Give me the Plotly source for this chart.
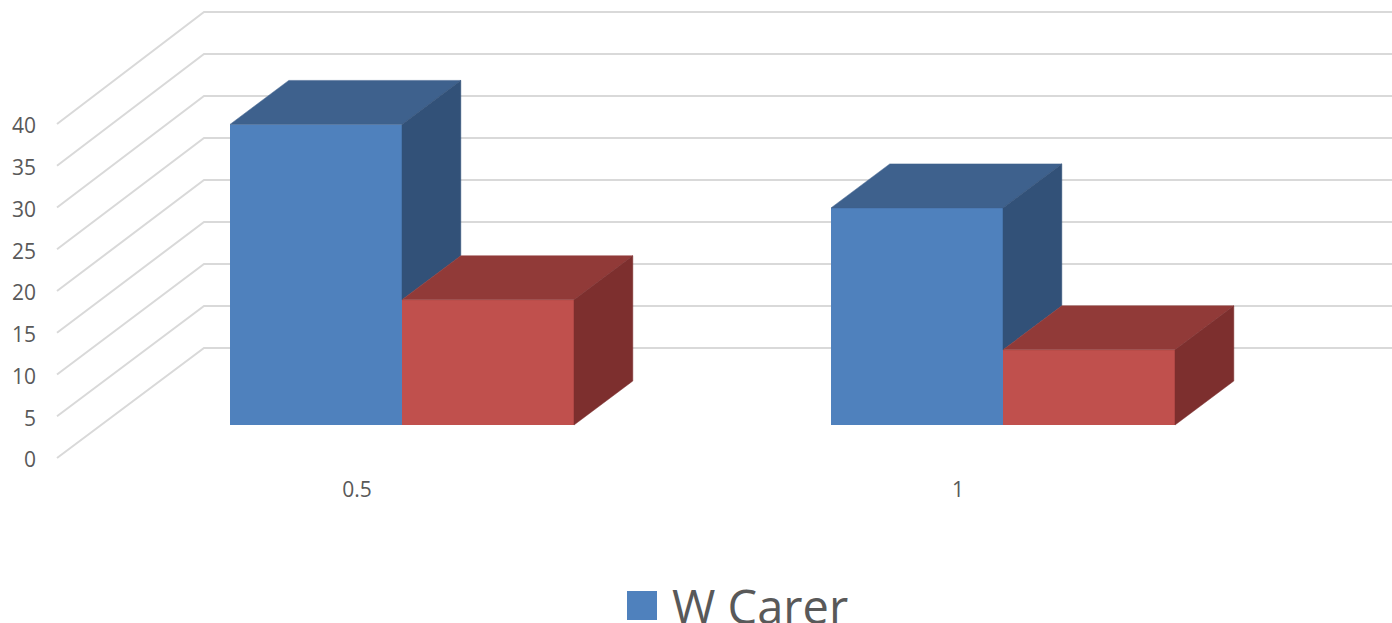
import plotly.graph_objects as go

# ---- data ----
categories = ["0.5", "1"]
w_carer = [36, 26]
second_series = [15, 9]
value_ticks = [0, 5, 10, 15, 20, 25, 30, 35, 40]
legend_label = "W Carer"

# ---- styles / layout constants ----
W, H = 1392, 623
ML, MB = 37, 148
PX_PER_CAT = 601.0
PX_PER_VAL = 8.35
ZERO_PY = 458.0
CAT0_PX = 402.0
BAR_W = 172.0 / PX_PER_CAT
WALL_LEFT_PX = 57.0
WALL_DX = 147.0 / PX_PER_CAT
WALL_DY = 110.0 / PX_PER_VAL
WALL_BACK_SCALE = 1.006
BAR_T0, BAR_T1 = 0.30, 0.70
GRID = "#d9d9d9"
TXT = "#595959"
FONT = "Open Sans"
BLUE = ("#4f81bd", "#3e618d", "#325178")
RED = ("#c0504d", "#913a38", "#7d2f2e")

x_min = (ML - CAT0_PX) / PX_PER_CAT
x_max = (W - CAT0_PX) / PX_PER_CAT
y_max = ZERO_PY / PX_PER_VAL
y_min = (ZERO_PY - (H - MB)) / PX_PER_VAL
wall_x0 = (WALL_LEFT_PX - CAT0_PX) / PX_PER_CAT


def paper_x(px):
    return (px - ML) / (W - ML)


def paper_y(py):
    return 1 - py / (H - MB)


base = BAR_T0 * WALL_DY
bar_dx = (BAR_T1 - BAR_T0) * WALL_DX
bar_dy = (BAR_T1 - BAR_T0) * WALL_DY
positions = list(range(len(categories)))

fig = go.Figure()
fig.add_bar(x=positions, y=w_carer, base=base, name=legend_label,
            marker=dict(color=BLUE[0], line_width=0), showlegend=False)
fig.add_bar(x=positions, y=second_series, base=base, name="Series 2",
            marker=dict(color=RED[0], line_width=0), showlegend=False)


def poly(xs, ys, color):
    fig.add_scatter(x=xs, y=ys, mode="lines", fill="toself", fillcolor=color,
                    line=dict(color=color, width=0.5), hoverinfo="skip",
                    showlegend=False)


for i, (v1, v2) in enumerate(zip(w_carer, second_series)):
    # blue bar: left half of the group
    l, m, r = i - BAR_W, i, i + BAR_W
    t1, t2 = base + v1, base + v2
    poly([l, m, m + bar_dx, l + bar_dx, l],
         [t1, t1, t1 + bar_dy, t1 + bar_dy, t1], BLUE[1])
    poly([m, m + bar_dx, m + bar_dx, m, m],
         [t1, t1 + bar_dy, t2 + bar_dy, t2, t1], BLUE[2])
    # red bar: right half of the group
    poly([m, r, r + bar_dx, m + bar_dx, m],
         [t2, t2, t2 + bar_dy, t2 + bar_dy, t2], RED[1])
    poly([r, r + bar_dx, r + bar_dx, r, r],
         [t2, t2 + bar_dy, base + bar_dy, base, t2], RED[2])

shapes = []
for v in value_ticks:
    back = v * WALL_BACK_SCALE + WALL_DY
    shapes.append(dict(
        type="path", layer="below", xref="x", yref="y",
        path=f"M {wall_x0} {v} L {wall_x0 + WALL_DX} {back} L {x_max} {back}",
        line=dict(color=GRID, width=2)))

# legend key, cut by the page edge like the reference
shapes.append(dict(type="rect", xref="paper", yref="paper",
                   x0=paper_x(627), x1=paper_x(657),
                   y0=paper_y(591), y1=paper_y(620),
                   fillcolor=BLUE[0], line_width=0))

fig.update_layout(
    width=W, height=H, autosize=False,
    margin=dict(l=ML, r=0, t=0, b=MB, pad=0),
    paper_bgcolor="white", plot_bgcolor="white",
    barmode="group", bargap=1 - 2 * BAR_W, bargroupgap=0,
    showlegend=False,
    shapes=shapes,
    xaxis=dict(range=[x_min, x_max], tickmode="array",
               tickvals=[p - 0.075 for p in positions], ticktext=categories,
               showgrid=False, zeroline=False, showline=False, ticks="",
               tickfont=dict(family=FONT, size=21, color=TXT)),
    yaxis=dict(range=[y_min, y_max], tickmode="array", tickvals=value_ticks,
               showgrid=False, zeroline=False, showline=False, ticks="",
               ticklabelshift=2,
               tickfont=dict(family=FONT, size=21, color=TXT)),
    annotations=[dict(text=legend_label, showarrow=False, xref="paper", yref="paper",
                      x=paper_x(670), y=paper_y(606), xanchor="left", yanchor="middle",
                      font=dict(family=FONT, size=47, color=TXT))],
)

fig.write_html("out.html", config=dict(displayModeBar=False),
               post_script="document.body.style.margin='0';document.body.style.overflow='hidden';")
